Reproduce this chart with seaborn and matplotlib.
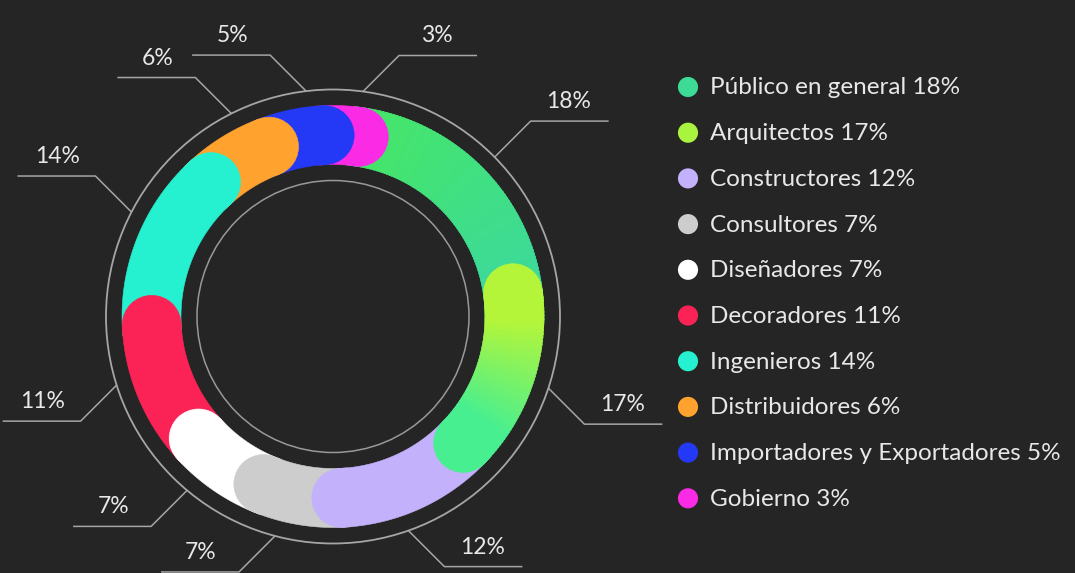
import numpy as np
import pandas as pd
import matplotlib
matplotlib.use("Agg")
import matplotlib.pyplot as plt
from matplotlib.patches import Circle, Polygon
from matplotlib.colors import to_rgb
import seaborn as sns

categorias = ["Público en general", "Arquitectos", "Constructores", "Consultores",
              "Diseñadores", "Decoradores", "Ingenieros", "Distribuidores",
              "Importadores y Exportadores", "Gobierno"]
porcentajes = [18, 17, 12, 7, 7, 11, 14, 6, 5, 3]
# color del punto de la leyenda
colores = ["#3ddb95", "#a9f43e", "#c3b1fb", "#cdcdcd", "#ffffff",
           "#fb2256", "#25f1d0", "#ffa22e", "#2439f6", "#fb2ae4"]
# degradado de cada tramo del anillo (inicio -> fin)
grad_ini = ["#45e56b", "#b4f53a", "#c3b1fb", "#cdcdcd", "#ffffff",
            "#fb2256", "#25f1d0", "#ffa22e", "#2439f6", "#fb2ae4"]
grad_fin = ["#3cd99c", "#48ef90", "#c3b1fb", "#cdcdcd", "#ffffff",
            "#fb2256", "#25f1d0", "#ffa22e", "#2439f6", "#fb2ae4"]

fondo = "#252525"
gris_linea = "#a6a6a6"
texto = "#e8e8e8"

sns.set_theme(style="dark", rc={"axes.facecolor": fondo, "figure.facecolor": fondo})
plt.rcParams["font.family"] = ["Lato", "DejaVu Sans"]

df = pd.DataFrame({"cat": categorias, "pct": porcentajes})
df["fin"] = df["pct"].cumsum()
df["ini"] = df["fin"] - df["pct"]

# geometria (pixeles)
cx, cy = 333, 316.5
r_int, r_ext = 152, 211
r_med = (r_int + r_ext) / 2
hw = (r_ext - r_int) / 2
r_aro, r_aro_int = 227, 136
rot = 8.6     # giro del inicio
ext = 8.8     # cuanto invade cada tramo al siguiente
d = np.degrees(np.arctan(hw / r_med))

fig = plt.figure(figsize=(10.75, 5.73), dpi=100)
ax = fig.add_axes([0, 0, 1, 1])


def punto(ang, r):
    a = np.radians(ang)
    return cx + r * np.sin(a), cy - r * np.cos(a)


def mezcla(c0, c1, t):
    a, b = np.array(to_rgb(c0)), np.array(to_rgb(c1))
    return tuple(a + (b - a) * min(max(t, 0), 1))


def banda(a0, a1, c0, c1, z, cap0):
    g0, g1 = a0 + d, a1 - d
    col = lambda a: mezcla(c0, c1, (a - g0) / (g1 - g0))
    if c0 == c1:
        trozos = [np.linspace(a0, a1, 80)]
    else:
        bordes = np.linspace(a0, a1, int(a1 - a0) + 2)
        trozos = [np.linspace(bordes[k], min(bordes[k + 1] + 0.4, a1), 5)
                  for k in range(len(bordes) - 1)]
    for th in trozos:
        c = col(th.mean())
        pts = [punto(a, r_ext) for a in th] + [punto(a, r_int) for a in th[::-1]]
        ax.add_patch(Polygon(pts, closed=True, fc=c, ec=c, lw=0.4, zorder=z))
    ax.add_patch(Circle(punto(a1, r_med), hw, fc=col(a1), ec=col(a1), lw=0.4, zorder=z))
    if cap0:
        ax.add_patch(Circle(punto(a0, r_med), hw, fc=col(a0), ec=col(a0), lw=0.4, zorder=z))


n = len(df)
orden = [0] + list(range(n - 1, 0, -1))
for z, i in enumerate(orden):
    fila = df.iloc[i]
    s = fila["ini"] * 3.6 + rot
    e = fila["fin"] * 3.6 + rot + ext
    a1 = e - d
    if i == 0:
        a1 += 2 * d
    if i == 1:
        a0, cap0 = s + d, True
    else:
        a0, cap0 = s - 3, False
    banda(a0, a1, grad_ini[i], grad_fin[i], 5 + z, cap0)

# aros finos
ax.add_patch(Circle((cx, cy), r_aro, fill=False, ec=gris_linea, lw=1.3, zorder=2))
ax.add_patch(Circle((cx, cy), r_aro_int, fill=False, ec="#999999", lw=1.1, zorder=2))

# lineas guia y porcentajes
for i, fila in df.iterrows():
    phi = (fila["ini"] + fila["fin"]) / 2 * 3.6 + rot + ext / 2
    x0, y0 = punto(phi, r_aro)
    sx = 1 if np.sin(np.radians(phi)) >= 0 else -1
    sy = -1 if np.cos(np.radians(phi)) >= 0 else 1
    x1, y1 = x0 + sx * 36, y0 + sy * 36
    x2 = x1 + sx * 78
    ax.plot([x0, x1, x2], [y0, y1, y1], color=gris_linea, lw=1.1, zorder=3,
            solid_capstyle="butt")
    ax.text(x1 + sx * 38, y1 - 9, f"{fila['pct']}%", ha="center", va="bottom",
            fontsize=16.5, color=texto, zorder=4)

# leyenda
df["lx"] = 688
df["ly"] = 87 + np.arange(n) * 45.7
sns.scatterplot(data=df, x="lx", y="ly", hue="cat", palette=colores, s=210,
                linewidth=0, legend=False, ax=ax, zorder=4)
for _, fila in df.iterrows():
    ax.text(fila["lx"] + 22, fila["ly"] + 1, f"{fila['cat']} {fila['pct']}%",
            ha="left", va="center", fontsize=17.5, color=texto, zorder=4)

ax.set_xlim(0, 1075)
ax.set_ylim(573, 0)
ax.axis("off")
fig.savefig("out.png", dpi=100, facecolor=fondo)
